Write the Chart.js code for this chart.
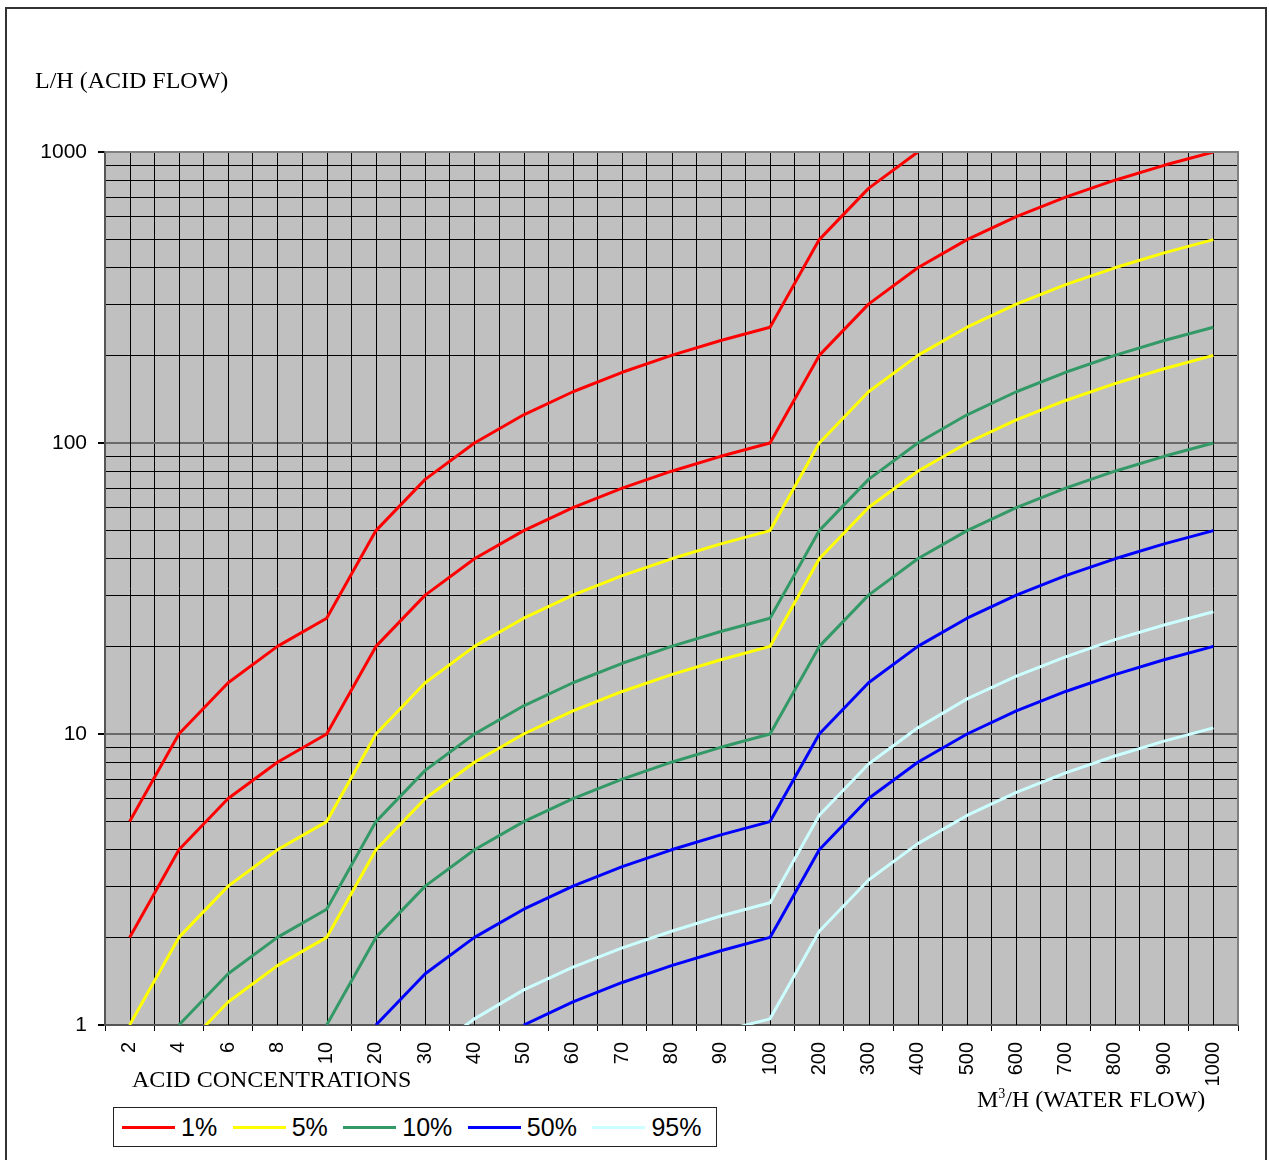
<!DOCTYPE html>
<html>
<head>
<meta charset="utf-8">
<title>Acid flow vs water flow</title>
<script src="https://cdn.jsdelivr.net/npm/chart.js@4.4.1/dist/chart.umd.min.js"></script>
<style>
  html, body { margin: 0; padding: 0; background: #fff; }
  body { width: 1269px; height: 1160px; position: relative; overflow: hidden; }
  #frame { position: absolute; left: 5px; top: 7px; width: 1262px; height: 1220px; box-sizing: border-box; border: 2px solid #333; }
  #chart { position: absolute; left: 0; top: 0; }
  .serif { position: absolute; font-family: 'Liberation Serif', 'Times New Roman', serif; font-size: 24px; line-height: 24px; color: #000; white-space: nowrap; }
  .sup { position: relative; top: -9px; font-size: 14px; line-height: 0; }
  #legend { position: absolute; left: 113px; top: 1107px; width: 604px; height: 40px; box-sizing: border-box;
            border: 1px solid #222; background: #fff; display: flex; align-items: center; padding-left: 8px; }
  .item { display: flex; align-items: center; margin-right: 15.5px; }
  .swatch { width: 53px; height: 3px; margin-right: 6px; }
  .label { font-family: 'Liberation Sans', Arial, sans-serif; font-size: 25px; line-height: 25px; color: #000; }
</style>
</head>
<body>
<div id="frame"></div>
<canvas id="chart" width="1269" height="1160"></canvas>
<div class="serif" style="left:35px; top:68px;">L/H (ACID FLOW)</div>
<div class="serif" style="left:132px; top:1067px;">ACID CONCENTRATIONS</div>
<div class="serif" style="left:977px; top:1087px;">M<span class="sup">3</span>/H (WATER FLOW)</div>
<div id="legend"></div>
<script>
// Water flow categories (m3/h) along the bottom axis
const waterFlow = ['2','4','6','8','10','20','30','40','50','60','70','80','90','100',
                   '200','300','400','500','600','700','800','900','1000'];

// Acid flow (l/h) per acid concentration: two dosing curves for each one
const acid1High  = [5,10,15,20,25,50,75,100,125,150,175,200,225,250,500,750,1000,null,null,null,null,null,null];
const acid1Low   = [2,4,6,8,10,20,30,40,50,60,70,80,90,100,200,300,400,500,600,700,800,900,1000];
const acid5High  = [1,2,3,4,5,10,15,20,25,30,35,40,45,50,100,150,200,250,300,350,400,450,500];
const acid5Low   = [null,0.8,1.2,1.6,2,4,6,8,10,12,14,16,18,20,40,60,80,100,120,140,160,180,200];
const acid10High = [null,1,1.5,2,2.5,5,7.5,10,12.5,15,17.5,20,22.5,25,50,75,100,125,150,175,200,225,250];
const acid10Low  = [null,null,null,null,1,2,3,4,5,6,7,8,9,10,20,30,40,50,60,70,80,90,100];
const acid50High = [null,null,null,null,null,1,1.5,2,2.5,3,3.5,4,4.5,5,10,15,20,25,30,35,40,45,50];
const acid50Low  = [null,null,null,null,null,null,null,null,1,1.2,1.4,1.6,1.8,2,4,6,8,10,12,14,16,18,20];
const acid95High = [null,null,null,null,null,null,0.79,1.05,1.32,1.58,1.84,2.1,2.37,2.63,5.26,7.89,10.5,13.2,15.8,18.4,21.1,23.7,26.3];
const acid95Low  = [null,null,null,null,null,null,null,null,null,null,null,null,0.95,1.05,2.1,3.15,4.2,5.25,6.3,7.35,8.4,9.45,10.5];

// Concentration names and the curves that belong to each
const concentrations = ['1%','5%','10%','50%','95%'];
const curves = [[acid1High, acid1Low],[acid5High, acid5Low],[acid10High, acid10Low],[acid50High, acid50Low],[acid95High, acid95Low]];

// Log axis: gridline values and the decades that carry a label
const yGridValues = [1,2,3,4,5,6,7,8,9,10,20,30,40,50,60,70,80,90,100,200,300,400,500,600,700,800,900,1000];
const yTickLabels = [1,10,100,1000];

const palette = ['#FF0000','#FFFF00','#339966','#0000FF','#CCFFFF'];

Chart.defaults.font.family = "'Liberation Sans', Arial, sans-serif";
Chart.defaults.color = '#000';

const datasets = [];
curves.forEach((pair, k) => {
  pair.forEach(values => {
    datasets.push({
      label: concentrations[k],
      data: values,
      borderColor: palette[k],
      backgroundColor: palette[k],
      borderWidth: 3,
      pointRadius: 0,
      pointHoverRadius: 0,
      tension: 0,
      fill: false,
      borderJoinStyle: 'round',
      spanGaps: false
    });
  });
});

// Gray plot area, extra gridlines through each category, and the plot border
const plotArea = {
  id: 'plotArea',
  beforeDraw(chart) {
    const { ctx, chartArea: a } = chart;
    ctx.save();
    ctx.fillStyle = '#C0C0C0';
    ctx.fillRect(a.left, a.top, a.right - a.left, a.bottom - a.top);
    ctx.restore();
  },
  beforeDatasetsDraw(chart) {
    const { ctx, chartArea: a } = chart;
    const xs = chart.scales.x;
    ctx.save();
    ctx.strokeStyle = '#000';
    ctx.lineWidth = 1;
    ctx.beginPath();
    for (let i = 0; i < waterFlow.length; i++) {
      const px = Math.round(xs.getPixelForValue(i)) + 0.5;
      ctx.moveTo(px, a.top);
      ctx.lineTo(px, a.bottom);
    }
    ctx.stroke();
    ctx.restore();
  },
  afterDatasetsDraw(chart) {
    const { ctx, chartArea: a } = chart;
    ctx.save();
    ctx.strokeStyle = '#808080';
    ctx.lineWidth = 2;
    ctx.beginPath();
    ctx.moveTo(a.left, a.top);
    ctx.lineTo(a.right, a.top);
    ctx.lineTo(a.right, a.bottom);
    ctx.stroke();
    ctx.restore();
  }
};

const isDecade = (c) => c.tick && yTickLabels.includes(c.tick.value);

const chart = new Chart(document.getElementById('chart'), {
  type: 'line',
  data: { labels: waterFlow, datasets },
  options: {
    responsive: false,
    animation: false,
    devicePixelRatio: 1,
    layout: { padding: { top: 152, right: 31, left: 0, bottom: 0 } },
    plugins: { legend: { display: false }, tooltip: { enabled: false }, title: { display: false } },
    scales: {
      x: {
        type: 'category',
        offset: true,
        grid: { offset: true, color: '#000', lineWidth: 1, tickLength: 6, tickColor: '#000' },
        border: { color: '#555', width: 2 },
        ticks: { autoSkip: false, minRotation: 90, maxRotation: 90, padding: 11, font: { size: 20 }, color: '#000' },
        afterFit(s) { s.height = 135; }
      },
      y: {
        type: 'logarithmic',
        min: 1,
        max: 1000,
        afterBuildTicks(s) { s.ticks = yGridValues.map(v => ({ value: v })); },
        afterFit(s) { s.width = 105; },
        grid: {
          color: c => isDecade(c) ? '#6a6a6a' : '#000',
          lineWidth: c => isDecade(c) ? 2 : 1,
          tickColor: c => isDecade(c) ? '#000' : 'rgba(0,0,0,0)',
          tickLength: 7
        },
        border: { color: '#555', width: 2 },
        ticks: {
          autoSkip: false,
          padding: 11,
          font: { size: 21 },
          color: '#000',
          callback: v => yTickLabels.includes(v) ? String(v) : ''
        }
      }
    }
  },
  plugins: [plotArea]
});

// Legend: one entry per concentration, coloured like its curves
const legend = document.getElementById('legend');
concentrations.forEach((name, k) => {
  const item = document.createElement('div');
  item.className = 'item';
  const sw = document.createElement('span');
  sw.className = 'swatch';
  sw.style.background = chart.data.datasets[k * 2].borderColor;
  const lb = document.createElement('span');
  lb.className = 'label';
  lb.textContent = name;
  item.appendChild(sw);
  item.appendChild(lb);
  legend.appendChild(item);
});
</script>
</body>
</html>
